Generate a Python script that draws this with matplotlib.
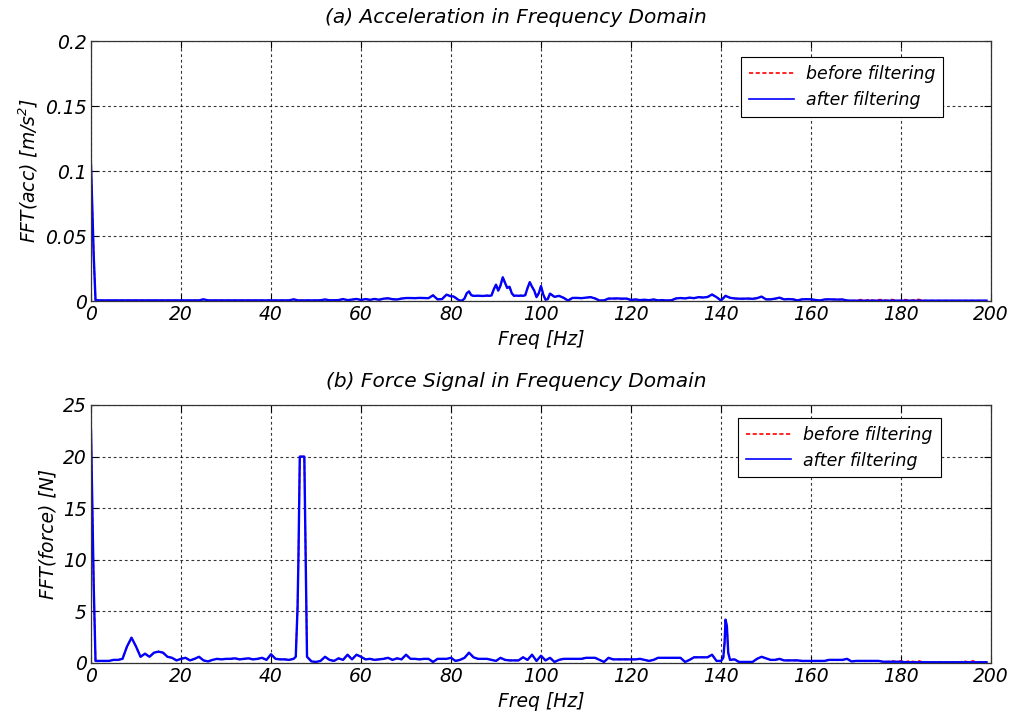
import numpy as np
import matplotlib
matplotlib.use("Agg")
import matplotlib.pyplot as plt

# ---------------- data ----------------
# (a) acceleration spectrum, frequency grid [Hz]
acc_freq = np.concatenate([[0.0, 0.3, 0.6], np.arange(1, 80), np.arange(80, 102.5, 0.5), np.arange(103, 200)])
# amplitudes in 1e-3 m/s^2 (after filtering)
acc_after_milli = (
    [105.0, 70.0, 35.0]
    + [0.8, 0.5, 0.5, 0.5, 0.5, 0.5, 0.5, 0.5, 0.5, 0.5]            # 1-10
    + [0.5, 0.5, 0.5, 0.5, 0.5, 0.5, 0.5, 0.5, 0.5, 0.5]            # 11-20
    + [0.5, 0.5, 0.5, 0.5, 1.3, 0.5, 0.5, 0.5, 0.5, 0.5]            # 21-30
    + [0.5, 0.5, 0.5, 0.5, 0.5, 0.5, 0.5, 0.5, 0.5, 0.5]            # 31-40
    + [0.5, 0.5, 0.5, 0.5, 1.3, 0.5, 0.5, 0.5, 0.5, 0.5]            # 41-50
    + [0.6, 1.2, 0.6, 0.6, 0.7, 1.5, 0.7, 1.1, 1.6, 0.8]            # 51-60
    + [1.5, 0.9, 1.6, 1.0, 1.8, 2.1, 1.4, 1.2, 1.9, 2.3]            # 61-70
    + [2.3, 2.2, 2.4, 2.3, 2.2, 4.4, 1.3, 1.5, 4.9]                 # 71-79
    + [3.6, 3.6, 2.5, 1.2, 0.3, 0.4, 2.0, 6.0, 7.4, 4.5,            # 80-84.5
       4.0, 4.0, 4.1, 4.0, 3.9, 4.0, 4.2, 4.0, 4.3, 9.0,            # 85-89.5
       12.6, 8.0, 12.0, 18.3, 14.0, 10.0, 11.0, 6.0, 4.0, 4.2,      # 90-94.5
       4.0, 4.2, 4.0, 4.5, 10.0, 14.5, 11.0, 8.0, 3.0, 6.0,         # 95-99.5
       11.5, 5.0, 1.0, 1.5, 5.7]                                    # 100-102
    + [3.2, 4.0, 2.5, 0.4, 2.4, 2.4, 2.2, 2.6, 3.0, 2.0]            # 103-112
    + [0.4, 0.5, 1.9, 1.9, 2.0, 1.8, 1.9, 0.8, 1.2, 0.7]            # 113-122
    + [1.0, 0.6, 1.2, 0.5, 0.7, 0.4, 0.6, 2.0, 2.3, 2.0]            # 123-132
    + [2.6, 2.2, 3.0, 2.7, 3.1, 5.0, 3.0, 0.4, 4.0, 2.5]            # 133-142
    + [2.0, 1.8, 1.8, 1.9, 1.7, 2.2, 3.4, 1.3, 1.3, 1.8]            # 143-152
    + [2.6, 1.3, 1.5, 1.3, 0.5, 1.3, 1.4, 1.3, 0.8, 0.4]            # 153-162
    + [1.2, 1.3, 1.2, 1.1, 1.2, 0.4]                                # 163-168
    + [0.3, 0.3, 0.3, 0.3, 0.3, 0.3, 0.3, 0.3, 0.3, 0.3,
       0.3, 0.3, 0.3, 0.3, 0.3, 0.3, 0.3, 0.3, 0.3, 0.3,
       0.3, 0.3, 0.3, 0.3, 0.3, 0.3, 0.3, 0.3, 0.3, 0.3, 0.3]       # 169-199
)
# before filtering differs only in the high-frequency tail (169-199 Hz)
acc_before_tail_milli = [0.3, 0.3, 1.1, 0.3, 1.2, 0.4, 1.0, 1.1, 0.3, 1.2,
                         0.3, 0.3, 1.1, 0.3, 1.0, 1.2, 0.3, 0.3, 0.3, 0.3,
                         0.3, 0.3, 0.3, 0.3, 0.3, 0.3, 0.3, 0.3, 0.3, 0.3, 0.3]
acc_after = np.array(acc_after_milli) / 1000.0        # unit conversion to m/s^2
acc_before = np.array(acc_after_milli[:-31] + acc_before_tail_milli) / 1000.0

# (b) force spectrum [N]
force_freq = np.concatenate([[0.0, 0.3, 0.6], np.arange(1, 46),
                             [45.5, 45.9, 46.1, 46.4, 47.4, 47.6, 47.8, 48.0],
                             np.arange(49, 141), [140.5, 140.8, 141.0, 141.3, 141.6],
                             np.arange(142, 200)])
force_after = (
    [22.5, 15.0, 7.5]
    + [0.2, 0.2, 0.2, 0.2, 0.3, 0.3, 0.4, 1.6, 2.45, 1.6]            # 1-10
    + [0.6, 0.9, 0.6, 1.0, 1.1, 1.0, 0.6, 0.5, 0.25, 0.4]            # 11-20
    + [0.5, 0.25, 0.4, 0.6, 0.25, 0.15, 0.3, 0.4, 0.35, 0.4]         # 21-30
    + [0.4, 0.45, 0.35, 0.4, 0.45, 0.35, 0.4, 0.5, 0.3, 0.85]        # 31-40
    + [0.4, 0.35, 0.35, 0.3, 0.4]                                    # 41-45
    + [0.6, 5.4, 10.3, 20.0, 20.0, 13.5, 7.0, 0.6]                   # 45.5-48
    + [0.15, 0.1, 0.2, 0.6, 0.3, 0.2, 0.45, 0.3, 0.8, 0.35, 0.8, 0.6] # 49-60
    + [0.35, 0.4, 0.3, 0.35, 0.4, 0.5, 0.3, 0.45, 0.35, 0.8]         # 61-70
    + [0.4, 0.4, 0.35, 0.4, 0.4, 0.1, 0.4, 0.4, 0.4, 0.5]            # 71-80
    + [0.2, 0.3, 0.5, 1.0, 0.55, 0.4, 0.4, 0.4, 0.3, 0.2]            # 81-90
    + [0.5, 0.3, 0.25, 0.25, 0.25, 0.55, 0.3, 0.8, 0.2, 0.7]         # 91-100
    + [0.25, 0.5, 0.1, 0.3, 0.4, 0.4, 0.4, 0.4, 0.4, 0.5]            # 101-110
    + [0.5, 0.5, 0.3, 0.1, 0.5, 0.35, 0.35, 0.35, 0.35, 0.35]        # 111-120
    + [0.35, 0.4, 0.3, 0.2, 0.3, 0.5, 0.5, 0.5, 0.5, 0.5]            # 121-130
    + [0.5, 0.1, 0.3, 0.55, 0.55, 0.55, 0.55, 0.8, 0.2, 0.2]         # 131-140
    + [0.5, 2.0, 4.2, 3.6, 1.0]                                      # 140.5-141.6
    + [0.3, 0.35, 0.1, 0.1, 0.1, 0.1, 0.4, 0.6, 0.45]                # 142-150
    + [0.3, 0.3, 0.4, 0.25, 0.25, 0.25, 0.25, 0.2, 0.2, 0.2]         # 151-160
    + [0.2, 0.2, 0.2, 0.3, 0.3, 0.3, 0.3, 0.4, 0.15, 0.2]            # 161-170
    + [0.2, 0.2, 0.2, 0.2, 0.2]                                      # 171-175
    + [0.12, 0.12, 0.12, 0.12, 0.12, 0.07, 0.07, 0.07, 0.07, 0.07,
       0.07, 0.07, 0.07, 0.07, 0.07, 0.07, 0.07, 0.07, 0.07, 0.07,
       0.07, 0.07, 0.07, 0.07]                                       # 176-199
)
force_before_tail = [0.12, 0.12, 0.2, 0.12, 0.2, 0.12, 0.2, 0.12, 0.2, 0.07,
                     0.07, 0.07, 0.07, 0.07, 0.07, 0.07, 0.07, 0.07, 0.2, 0.07,
                     0.2, 0.07, 0.07, 0.07]                          # 176-199
force_before = force_after[:-24] + force_before_tail

titles = ["(a) Acceleration in Frequency Domain", "(b) Force Signal in Frequency Domain"]
ylabels = ["FFT(acc) [m/s$^2$]", "FFT(force) [N]"]
xlabel = "Freq [Hz]"
legend_labels = ["before filtering", "after filtering"]
xticks = [0, 20, 40, 60, 80, 100, 120, 140, 160, 180, 200]
acc_yticks = [0, 0.05, 0.1, 0.15, 0.2]
acc_yticklabels = ["0", "0.05", "0.1", "0.15", "0.2"]
force_yticks = [0, 5, 10, 15, 20, 25]

# ---------------- style ----------------
plt.rcParams["font.family"] = ["DejaVu Sans"]
plt.rcParams["font.style"] = "italic"
plt.rcParams["mathtext.fontset"] = "custom"
plt.rcParams["mathtext.rm"] = "DejaVu Sans:italic"
plt.rcParams["mathtext.it"] = "DejaVu Sans:italic"

FS = 13.5
fig = plt.figure(figsize=(10.18, 7.2), dpi=100)
fig.patch.set_facecolor("white")
ax1 = fig.add_axes([0.0894, 0.5819, 0.8841, 0.3611])
ax2 = fig.add_axes([0.0894, 0.0792, 0.8841, 0.3583])

panels = [
    (ax1, acc_freq, acc_before, acc_after, (0, 0.2), acc_yticks, acc_yticklabels, (0.947, 0.938)),
    (ax2, force_freq, force_before, force_after, (0, 25), force_yticks, [str(t) for t in force_yticks], (0.944, 0.95)),
]

for i, (ax, f, yb, ya, ylim, yt, ytl, anchor) in enumerate(panels):
    ax.plot(f, yb, color="red", linestyle=(0, (2.5, 1.5)), lw=1.2, label=legend_labels[0])
    ax.plot(f, ya, color="blue", linestyle="-", lw=1.7, label=legend_labels[1])
    ax.set_xlim(0, 200)
    ax.set_ylim(*ylim)
    ax.set_xticks(xticks)
    ax.set_xticklabels([str(t) for t in xticks], fontsize=FS, style="italic")
    ax.set_yticks(yt)
    ax.set_yticklabels(ytl, fontsize=FS, style="italic")
    ax.grid(True, color="black", linestyle=(0, (2.5, 2.5)), lw=0.8, alpha=0.8)
    ax.tick_params(direction="in", length=5, width=0.8, top=True, right=True, pad=3)
    for s in ax.spines.values():
        s.set_color("#333333")
        s.set_linewidth(0.9)
    ax.set_title(titles[i], fontsize=14.5, style="italic", pad=13, x=0.472)
    ax.set_xlabel(xlabel, fontsize=FS, style="italic", labelpad=4)
    ax.set_ylabel(ylabels[i], fontsize=FS, style="italic", labelpad=4)
    leg_handles = [
        plt.Line2D([], [], color="red", linestyle=(0, (2.5, 1.5)), lw=1.2),
        plt.Line2D([], [], color="blue", linestyle="-", lw=1.2),
    ]
    leg = ax.legend(leg_handles, legend_labels, loc="upper right", bbox_to_anchor=anchor,
                    fancybox=False, framealpha=1, edgecolor="black",
                    handlelength=2.6, borderpad=0.45, labelspacing=0.45, handletextpad=0.7,
                    borderaxespad=0.0, prop={"style": "italic", "size": 12.5})
    leg.get_frame().set_linewidth(0.8)

fig.savefig("out.png", dpi=100, facecolor="white")
